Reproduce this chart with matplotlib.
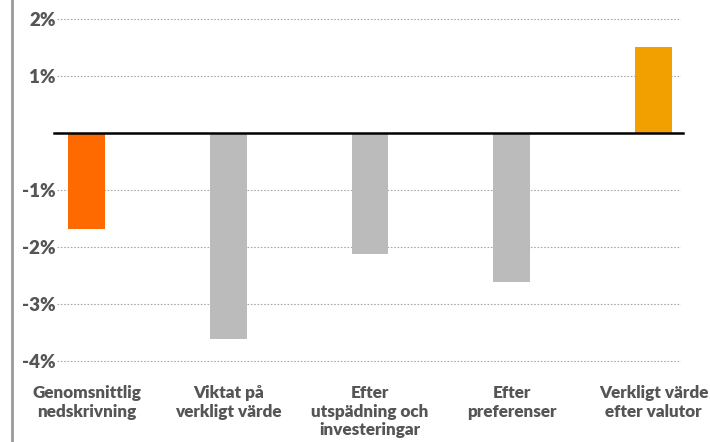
import matplotlib
matplotlib.use("Agg")
import matplotlib.pyplot as plt
from matplotlib.lines import Line2D

# data
categories = ["Genomsnittlig\nnedskrivning", "Viktat på\nverkligt värde",
              "Efter\nutspädning och\ninvesteringar", "Efter\npreferenser",
              "Verkligt värde\nefter valutor"]
values = [-1.68, -3.61, -2.12, -2.61, 1.51]
colors = ["#FF6A00", "#BBBBBB", "#BBBBBB", "#BBBBBB", "#F2A000"]
yticks = [2, 1, -1, -2, -3, -4]
ytick_labels = ["2%", "1%", "-1%", "-2%", "-3%", "-4%"]

plt.rcParams['font.family'] = ['Lato', 'DejaVu Sans']
text_color = "#555555"

fig = plt.figure(figsize=(7.1, 4.42), dpi=100)
ax = fig.add_axes([0.0803, 0.1704, 0.8789, 0.8126])

x = list(range(len(values)))
ax.bar(x, values, width=0.26, color=colors, zorder=3)

ax.set_xlim(-0.208, 4.194)
ax.set_ylim(-4.1, 2.2)

for y in yticks:
    ax.axhline(y, color="#AAAAAA", lw=0.8, ls=(0, (1.5, 1.5)), zorder=1)
ax.axhline(0, xmin=-0.005, xmax=1.003, color="black", lw=1.8, zorder=4, clip_on=False)

ax.set_yticks(yticks)
ax.set_yticklabels(ytick_labels, fontsize=13.5, fontweight="heavy", color=text_color)
ax.tick_params(axis="y", length=0, pad=1)

ax.set_xticks(x)
ax.set_xticklabels(categories, fontsize=12.3, fontweight="heavy", color=text_color,
                   linespacing=1.22)
ax.tick_params(axis="x", length=0, pad=13)

for s in ax.spines.values():
    s.set_visible(False)

# left border line
fig.add_artist(Line2D([12 / 710, 12 / 710], [0, 1], color="#999999", lw=2,
                      transform=fig.transFigure))

fig.savefig("out.png", dpi=100)
